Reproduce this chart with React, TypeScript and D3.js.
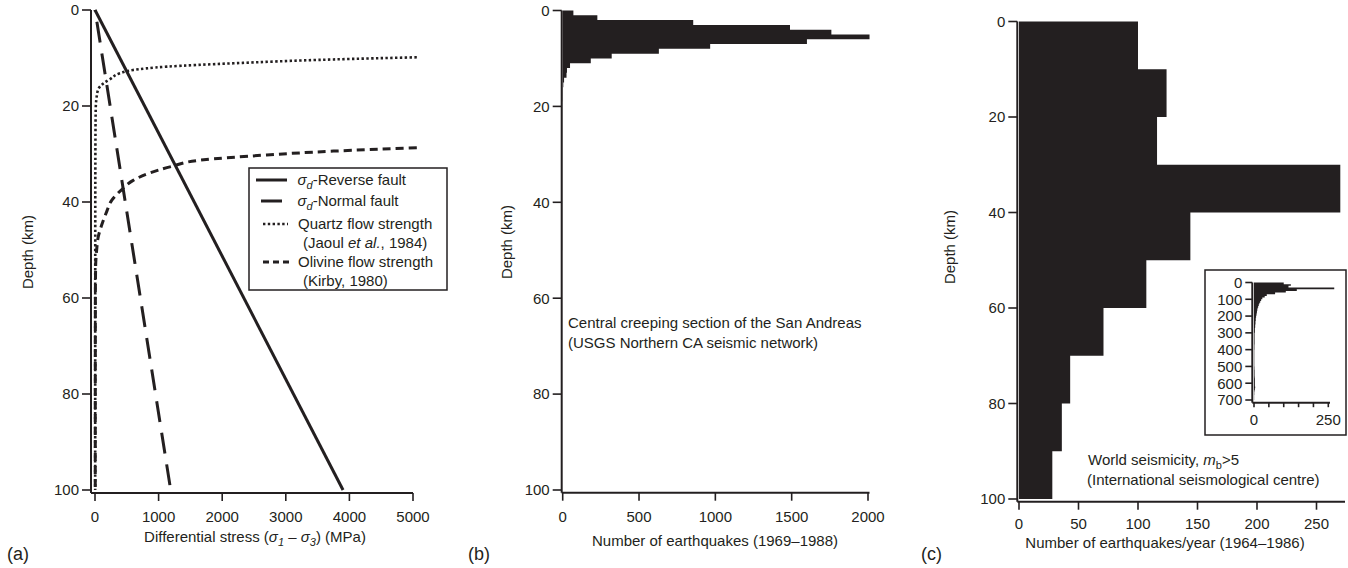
import React from "react";
import * as d3 from "d3";

const INK = "#231f20";
const FONT = "'Liberation Sans', Arial, Helvetica, sans-serif";

// ---------- (a) strength envelopes ----------
const stressTicks = [0, 1000, 2000, 3000, 4000, 5000];
const depthTicks = [0, 20, 40, 60, 80, 100];
const faultDepth = [0, 100];
const reverseFaultStress = [0, 3900];
const normalFaultStress = [0, 1190];
const quartzDepth = [9.85, 10.3, 11.1, 11.8, 12.5, 13.2, 14.4, 15.3, 16.5, 18.1, 20.8, 30, 50, 100];
const quartzStress = [5060, 3750, 2180, 1130, 600, 390, 236, 131, 52, 26, 11, 6, 4, 3];
const olivineDepth = [28.7, 29.4, 30.2, 31.3, 32.6, 34.0, 35.5, 37.3, 39.6, 42.0, 44.8, 47.2, 50.0, 53.5, 60, 100];
const olivineStress = [5060, 3750, 2700, 1650, 1200, 850, 600, 430, 265, 184, 105, 52, 26, 10, 6, 4];

// ---------- (b) San Andreas creeping section, 1 km bins ----------
const sanAndreasBinKm = 1;
const sanAndreasCounts = [
  70, 227, 855, 1489, 1760, 2010, 1600, 966, 630, 321, 184, 48, 28, 25, 9, 4,
  2, 2, 2, 1, 1, 1, 1, 1, 1, 1, 1, 1, 1, 1, 1, 1, 1, 1, 1, 1, 1, 1, 1, 1, 1, 1, 1, 1, 1, 1, 1, 1, 1, 1,
];
const quakeTicks = [0, 500, 1000, 1500, 2000];

// ---------- (c) world seismicity, 10 km bins ----------
const worldBinKm = 10;
const worldCounts = [100, 124, 116, 270, 144, 107, 71, 43, 36, 28];
const rateTicks = [0, 50, 100, 150, 200, 250];

// inset: full depth range 0-700 km, 10 km bins
const worldDeepCounts = [
  100, 124, 116, 270, 144, 107, 71, 43, 36, 28,
  24, 21, 18, 16, 14, 12, 11, 10, 9, 8,
  7, 6, 6, 5, 5, 4, 4, 3, 3, 3,
  2, 2, 2, 2, 2, 2, 2, 1.5, 1.5, 1.5,
  1, 1, 1, 1, 1, 1, 1, 1, 1, 1,
  1.5, 1.5, 2, 2, 2, 2, 2.5, 3, 3, 3,
  3, 3, 4, 3, 2, 1, 1, 0.5, 0.5, 0.5,
];
const insetDepthTicks = [0, 100, 200, 300, 400, 500, 600, 700];
const insetRateTicks = [0, 50, 100, 150, 200, 250];
const insetRateLabels = [0, 250];

const histPath = (
  counts: number[],
  binKm: number,
  x: d3.ScaleLinear<number, number>,
  y: d3.ScaleLinear<number, number>
) => {
  const p = d3.path();
  counts.forEach((c, i) => {
    const y0 = y(i * binKm);
    const y1 = y((i + 1) * binKm);
    p.rect(x(0), y0, x(c) - x(0), y1 - y0);
  });
  return p.toString();
};

const Sigma = ({ sub }: { sub: string }) => (
  <>
    <tspan fontStyle="italic">σ</tspan>
    <tspan fontStyle="italic" fontSize={11} dy={4}>
      {sub}
    </tspan>
  </>
);

const DepthAxis = ({
  y,
  axisX,
  top,
  bottom,
  ticks,
  tickLen,
}: {
  y: d3.ScaleLinear<number, number>;
  axisX: number;
  top: number;
  bottom: number;
  ticks: number[];
  tickLen: number;
}) => (
  <g>
    <line x1={axisX} x2={axisX} y1={top} y2={bottom} stroke={INK} strokeWidth={2} />
    {ticks.map((t) => (
      <g key={t}>
        <line x1={axisX - tickLen} x2={axisX} y1={y(t)} y2={y(t)} stroke={INK} strokeWidth={1.6} />
        <text x={axisX - tickLen - 3} y={y(t) + 5.3} textAnchor="end" fontSize={15}>
          {t}
        </text>
      </g>
    ))}
  </g>
);

const CountAxis = ({
  x,
  axisY,
  left,
  right,
  ticks,
  labels,
  tickLen,
  labelY,
}: {
  x: d3.ScaleLinear<number, number>;
  axisY: number;
  left: number;
  right: number;
  ticks: number[];
  labels?: number[];
  tickLen: number;
  labelY: number;
}) => (
  <g>
    <line x1={left} x2={right} y1={axisY} y2={axisY} stroke={INK} strokeWidth={2} />
    {ticks.map((t) => (
      <g key={t}>
        <line x1={x(t)} x2={x(t)} y1={axisY} y2={axisY + tickLen} stroke={INK} strokeWidth={1.6} />
        {(!labels || labels.includes(t)) && (
          <text x={x(t)} y={labelY} textAnchor="middle" fontSize={15}>
            {t}
          </text>
        )}
      </g>
    ))}
  </g>
);

export default function App() {
  // (a)
  const xA = d3.scaleLinear().domain([0, 5000]).range([95, 413]);
  const yA = d3.scaleLinear().domain([0, 100]).range([10, 490]);
  const line = d3
    .line<[number, number]>()
    .x((d) => xA(d[0]))
    .y((d) => yA(d[1]));
  const smooth = d3
    .line<[number, number]>()
    .x((d) => xA(d[0]))
    .y((d) => yA(d[1]))
    .curve(d3.curveMonotoneY);
  const zip = (s: number[], z: number[]) => s.map((v, i) => [v, z[i]] as [number, number]);

  // (b)
  const xB = d3.scaleLinear().domain([0, 2000]).range([562.7, 868]);
  const yB = d3.scaleLinear().domain([0, 100]).range([10.5, 490]);

  // (c)
  const xC = d3.scaleLinear().domain([0, 250]).range([1019, 1316.5]);
  const yC = d3.scaleLinear().domain([0, 100]).range([21.5, 499]);

  // inset
  const xI = d3.scaleLinear().domain([0, 250]).range([1254, 1328.3]);
  const yI = d3.scaleLinear().domain([0, 700]).range([282.5, 400]);

  return (
    <svg
      width={1348}
      height={568}
      style={{ position: "absolute", left: 0, top: 0, display: "block", background: "#fff" }}
      fontFamily={FONT}
      fill={INK}
    >
      <rect width={1348} height={568} fill="#fff" />

      {/* ---------------- (a) ---------------- */}
      <g>
        <path d={line(zip(reverseFaultStress, faultDepth)) || ""} fill="none" stroke={INK} strokeWidth={3} />
        <path
          d={line(zip(normalFaultStress, faultDepth)) || ""}
          fill="none"
          stroke={INK}
          strokeWidth={3}
          strokeDasharray="21,11"
          strokeDashoffset={-12}
        />
        <path
          d={smooth(zip(quartzStress, quartzDepth)) || ""}
          fill="none"
          stroke={INK}
          strokeWidth={2.6}
          strokeDasharray="2.4,2.4"
        />
        <path
          d={smooth(zip(olivineStress, olivineDepth)) || ""}
          fill="none"
          stroke={INK}
          strokeWidth={3}
          strokeDasharray="8,5"
        />
        <DepthAxis y={yA} axisX={91} top={10} bottom={493} ticks={depthTicks} tickLen={9} />
        <CountAxis x={xA} axisY={493} left={91} right={413} ticks={stressTicks} tickLen={8} labelY={522} />
        <text x={33} y={252} textAnchor="middle" fontSize={15} transform="rotate(-90 33 252)">
          Depth (km)
        </text>
        <text x={255} y={542} textAnchor="middle" fontSize={15}>
          Differential stress (<Sigma sub="1" />
          <tspan dy={-4}> – </tspan>
          <Sigma sub="3" />
          <tspan dy={-4}>) (MPa)</tspan>
        </text>
        <text x={7} y={560} fontSize={18}>
          (a)
        </text>

        {/* legend */}
        <rect x={249} y={168} width={198} height={122} fill="#fff" stroke={INK} strokeWidth={1.5} />
        <line x1={256} x2={287} y1={180} y2={180} stroke={INK} strokeWidth={3} />
        <text x={297.5} y={185} fontSize={15}>
          <Sigma sub="d" />
          <tspan dy={-4}>-Reverse fault</tspan>
        </text>
        <line x1={261} x2={282} y1={201} y2={201} stroke={INK} strokeWidth={3} />
        <text x={297.5} y={206} fontSize={15}>
          <Sigma sub="d" />
          <tspan dy={-4}>-Normal fault</tspan>
        </text>
        <line x1={263} x2={288} y1={224} y2={224} stroke={INK} strokeWidth={2.6} strokeDasharray="2.4,2.4" />
        <text x={298} y={229} fontSize={15}>
          Quartz flow strength
        </text>
        <text x={303} y={248} fontSize={15}>
          (Jaoul <tspan fontStyle="italic">et al.</tspan>, 1984)
        </text>
        <line x1={263} x2={289} y1={262} y2={262} stroke={INK} strokeWidth={3} strokeDasharray="6,4" />
        <text x={298} y={267} fontSize={15}>
          Olivine flow strength
        </text>
        <text x={303} y={286} fontSize={15}>
          (Kirby, 1980)
        </text>
      </g>

      {/* ---------------- (b) ---------------- */}
      <g>
        <path d={histPath(sanAndreasCounts, sanAndreasBinKm, xB, yB)} fill={INK} />
        <DepthAxis y={yB} axisX={561.7} top={10.5} bottom={492.7} ticks={depthTicks} tickLen={9} />
        <CountAxis
          x={xB}
          axisY={492.7}
          left={561.7}
          right={xB(2010)}
          ticks={quakeTicks}
          tickLen={8}
          labelY={522}
        />
        <text x={512} y={242} textAnchor="middle" fontSize={15} transform="rotate(-90 512 242)">
          Depth (km)
        </text>
        <text x={568} y={328} fontSize={15}>
          Central creeping section of the San Andreas
        </text>
        <text x={568} y={348} fontSize={15}>
          (USGS Northern CA seismic network)
        </text>
        <text x={715} y={546} textAnchor="middle" fontSize={15}>
          Number of earthquakes (1969–1988)
        </text>
        <text x={468} y={560} fontSize={18}>
          (b)
        </text>
      </g>

      {/* ---------------- (c) ---------------- */}
      <g>
        <path d={histPath(worldCounts, worldBinKm, xC, yC)} fill={INK} />
        <DepthAxis y={yC} axisX={1017.3} top={21.5} bottom={501.7} ticks={depthTicks} tickLen={9} />
        <CountAxis
          x={xC}
          axisY={501.7}
          left={1017.3}
          right={1345}
          ticks={rateTicks}
          tickLen={8}
          labelY={529}
        />
        <text x={955} y={247} textAnchor="middle" fontSize={15} transform="rotate(-90 955 247)">
          Depth (km)
        </text>
        <text x={1088} y={465} fontSize={15}>
          World seismicity, <tspan fontStyle="italic">m</tspan>
          <tspan fontSize={11} dy={4}>
            b
          </tspan>
          <tspan dy={-4}>&gt;5</tspan>
        </text>
        <text x={1087} y={485} fontSize={15}>
          (International seismological centre)
        </text>
        <text x={1165} y={548} textAnchor="middle" fontSize={15}>
          Number of earthquakes/year (1964–1986)
        </text>
        <text x={921} y={560} fontSize={18}>
          (c)
        </text>

        {/* inset: 0-700 km */}
        <rect x={1205} y={270} width={141} height={165} fill="#fff" stroke={INK} strokeWidth={1.5} />
        <path d={histPath(worldDeepCounts, worldBinKm, xI, yI)} fill={INK} />
        <DepthAxis y={yI} axisX={1252.3} top={282.5} bottom={402.7} ticks={insetDepthTicks} tickLen={7} />
        <CountAxis
          x={xI}
          axisY={402.7}
          left={1252.3}
          right={1330}
          ticks={insetRateTicks}
          labels={insetRateLabels}
          tickLen={4.5}
          labelY={424.5}
        />
      </g>
    </svg>
  );
}
